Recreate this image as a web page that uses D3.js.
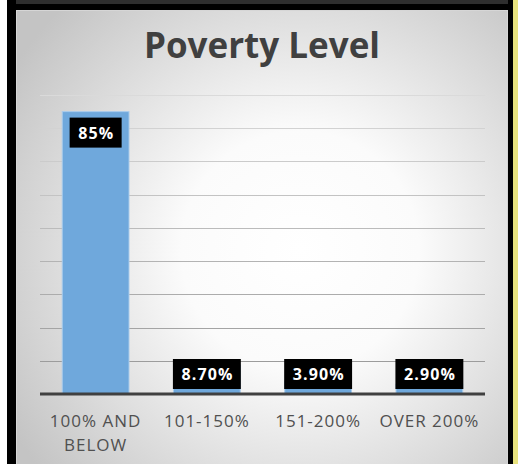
<!DOCTYPE html>
<meta charset="utf-8">
<style>
body { margin: 0; background: #fff; }
svg { display: block; }
.title { font: bold 35px "Open Sans", sans-serif; fill: #404040; text-anchor: middle; }
.cat { font: 17px "Open Sans", sans-serif; fill: #505050; text-anchor: middle; letter-spacing: 1px; }
.lbl { font: bold 16px "Open Sans", sans-serif; fill: #fff; text-anchor: middle; letter-spacing: 1.1px; }
.bar { fill: #6fa8dc; stroke: #a9cbeb; stroke-width: 1; }
</style>
<body>
<svg id="chart" width="518" height="464"></svg>
<script src="https://cdn.jsdelivr.net/npm/d3@7"></script>
<script>

// data
var categories = [["100% AND", "BELOW"], ["101-150%"], ["151-200%"], ["OVER 200%"]];
var values = [85, 8.7, 3.9, 2.9];
var valueLabels = ["85%", "8.70%", "3.90%", "2.90%"];
var gridTicks = [10, 20, 30, 40, 50, 60, 70, 80, 90];

var svg = d3.select("#chart");

// frame
svg.append("rect").attr("x", 7).attr("y", 0).attr("width", 506).attr("height", 464).attr("fill", "#000");
svg.append("rect").attr("x", 513).attr("y", 0).attr("width", 5).attr("height", 464).attr("fill", "#e8e27e");
svg.append("rect").attr("x", 16).attr("y", 0).attr("width", 492).attr("height", 4).attr("fill", "#2e2e2e");

var defs = svg.append("defs");
var grad = defs.append("radialGradient").attr("id", "bg")
    .attr("gradientUnits", "userSpaceOnUse")
    .attr("cx", 300).attr("cy", 250).attr("r", 340);
grad.append("stop").attr("offset", "0%").attr("stop-color", "#ffffff");
grad.append("stop").attr("offset", "35%").attr("stop-color", "#fbfbfb");
grad.append("stop").attr("offset", "100%").attr("stop-color", "#c4c4c4");

svg.append("rect").attr("x", 16.5).attr("y", 10.5).attr("width", 491).attr("height", 454)
    .attr("fill", "url(#bg)").attr("stroke", "#d6d6d6");

svg.append("text").attr("class", "title").attr("x", 262).attr("y", 58).text("Poverty Level");

var x = d3.scaleBand()
    .domain(d3.range(categories.length))
    .range([40, 485])
    .paddingInner(0.4)
    .paddingOuter(0.2);

var y = d3.scaleLinear()
    .domain([0, 90])
    .range([394, 95]);

var gridColor = d3.scaleLinear().domain([90, 10]).range(["#dadada", "#9c9c9c"]);

// gridlines
svg.append("g").selectAll("line")
    .data(gridTicks)
    .enter().append("line")
    .attr("x1", x.range()[0])
    .attr("x2", x.range()[1])
    .attr("y1", function(d) { return Math.round(y(d)) + 0.5; })
    .attr("y2", function(d) { return Math.round(y(d)) + 0.5; })
    .attr("stroke", function(d) { return gridColor(d); })
    .attr("stroke-width", 1);

// bars
svg.append("g").selectAll("rect")
    .data(values)
    .enter().append("rect")
    .attr("class", "bar")
    .attr("x", function(d, i) { return x(i); })
    .attr("y", function(d) { return y(d); })
    .attr("width", x.bandwidth())
    .attr("height", function(d) { return y(0) - y(d); });

// baseline
svg.append("line")
    .attr("x1", x.range()[0]).attr("x2", x.range()[1])
    .attr("y1", y(0)).attr("y2", y(0))
    .attr("stroke", "#404040").attr("stroke-width", 3);

// data labels in black boxes
var lbl = svg.append("g").selectAll("g")
    .data(values)
    .enter().append("g");

lbl.each(function(d, i) {
    var g = d3.select(this);
    var cx = x(i) + x.bandwidth() / 2;
    var boxH = 30;
    var top = (y(0) - y(d) > 40) ? y(d) + 6 : y(0) - 5 - boxH;
    var t = g.append("text").attr("class", "lbl")
        .attr("x", cx + 0.6)
        .attr("y", top + 21)
        .text(valueLabels[i]);
    var w = t.node().getBBox().width + 16;
    g.insert("rect", "text")
        .attr("x", cx - w / 2)
        .attr("y", top)
        .attr("width", w)
        .attr("height", boxH)
        .attr("fill", "#000");
});

// category labels
var cat = svg.append("g").selectAll("text")
    .data(categories)
    .enter().append("text")
    .attr("class", "cat")
    .attr("x", function(d, i) { return x(i) + x.bandwidth() / 2; })
    .attr("y", 427);

cat.selectAll("tspan")
    .data(function(d) { return d; })
    .enter().append("tspan")
    .attr("x", function() { return d3.select(this.parentNode).attr("x"); })
    .attr("dy", function(d, j) { return j === 0 ? 0 : 24; })
    .text(function(d) { return d; });

</script>
</body>
